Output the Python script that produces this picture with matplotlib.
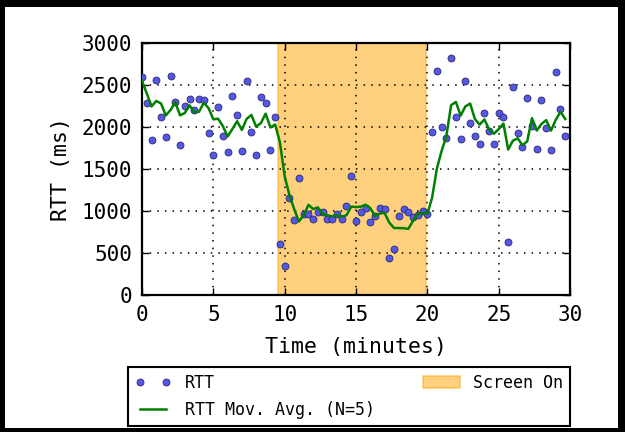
import matplotlib
matplotlib.use("Agg")
import matplotlib.pyplot as plt
from matplotlib.patches import Rectangle

# RTT samples every 20 s (minutes on x)
rtt = [2600, 2280, 1845, 2560, 2115, 1885, 2610, 2300, 1785, 2255,
       2335, 2200, 2335, 2320, 1930, 1670, 2240, 1895, 1700, 2370,
       2140, 1720, 2550, 1940, 1670, 2355, 2280, 1725, 2120, 605,
       345, 1150, 890, 1390, 970, 965, 900, 990, 985, 905,
       905, 965, 910, 1065, 1415, 880, 985, 1030, 865, 940,
       1030, 1025, 445, 548, 937, 1020, 985, 930, 950, 1000,
       970, 1935, 2665, 2005, 1875, 2820, 2125, 1855, 2550, 2045,
       1895, 1795, 2165, 1950, 1795, 2165, 2125, 627, 2480, 1930,
       1760, 2350, 2010, 1740, 2320, 1990, 1725, 2650, 2220, 1890]

# moving average (N=5) as drawn
rtt_avg = [2550, 2400, 2245, 2310, 2280, 2137, 2203, 2294, 2139, 2167,
           2257, 2175, 2182, 2289, 2224, 2091, 2099, 2011, 1887, 1975,
           2069, 1965, 2096, 2144, 2004, 2047, 2159, 1994, 2030, 1817,
           1415, 1189, 1022, 876, 949, 1073, 1023, 1043, 962, 949,
           937, 950, 934, 950, 1052, 1047, 1051, 1075, 1035, 940,
           970, 978, 861, 798, 797, 795, 787, 884, 964, 977,
           967, 1157, 1504, 1715, 1890, 2260, 2298, 2136, 2245, 2279,
           2094, 2028, 2090, 1970, 1920, 1974, 2040, 1732, 1838, 1865,
           1784, 1829, 2106, 1958, 2036, 2082, 1957, 2085, 2181, 2095]

t = [i / 3.0 for i in range(len(rtt))]
screen_on = (9.5, 19.9)

plt.rcParams['font.family'] = ['DejaVu Sans Mono']

fig = plt.figure(figsize=(6.25, 4.32), dpi=100, facecolor='black')
fig.patches.append(Rectangle((5 / 625, 4 / 432), 613 / 625, 421 / 432,
                             transform=fig.transFigure, facecolor='white',
                             edgecolor='none', zorder=-1))

ax = fig.add_axes([142 / 625, 137 / 432, 428 / 625, 252 / 432])

ax.plot(t, rtt, 'o', color='#5757e6', markeredgecolor='#2a2a70',
        markeredgewidth=0.6, markersize=5, label='RTT', zorder=3)
ax.plot(t, rtt_avg, '-', color='green', linewidth=1.8,
        label='RTT Mov. Avg. (N=5)', zorder=4)
ax.axvspan(screen_on[0], screen_on[1], facecolor='orange', edgecolor='orange',
           alpha=0.5, linewidth=1.2, label='Screen On', zorder=1)

ax.set_xlim(0, 30)
ax.set_ylim(0, 3000)
ax.set_xticks(range(0, 31, 5))
ax.set_yticks(range(0, 3001, 500))
ax.grid(True, color='black', linestyle=(0, (1, 4)), linewidth=1.1)
ax.set_axisbelow(False)
ax.tick_params(direction='in', length=5, width=1, top=True, right=True,
               labelsize=15, pad=7)
for s in ax.spines.values():
    s.set_linewidth(1.6)

ax.set_xlabel('Time (minutes)', fontsize=15.5, labelpad=9)
ax.set_ylabel('RTT (ms)', fontsize=15.5, labelpad=8)

leg = ax.legend(loc='upper left', ncol=2, numpoints=2, mode='expand',
                bbox_to_anchor=(128 / 625, 1 - 367 / 432, 442 / 625, 0),
                bbox_transform=fig.transFigure, borderaxespad=0,
                fontsize=12, fancybox=False, framealpha=1,
                handlelength=2.2, borderpad=0.4, labelspacing=0.55)
leg.get_frame().set_edgecolor('black')
leg.get_frame().set_linewidth(1.5)

fig.savefig('out.png', dpi=100, facecolor=fig.get_facecolor())
